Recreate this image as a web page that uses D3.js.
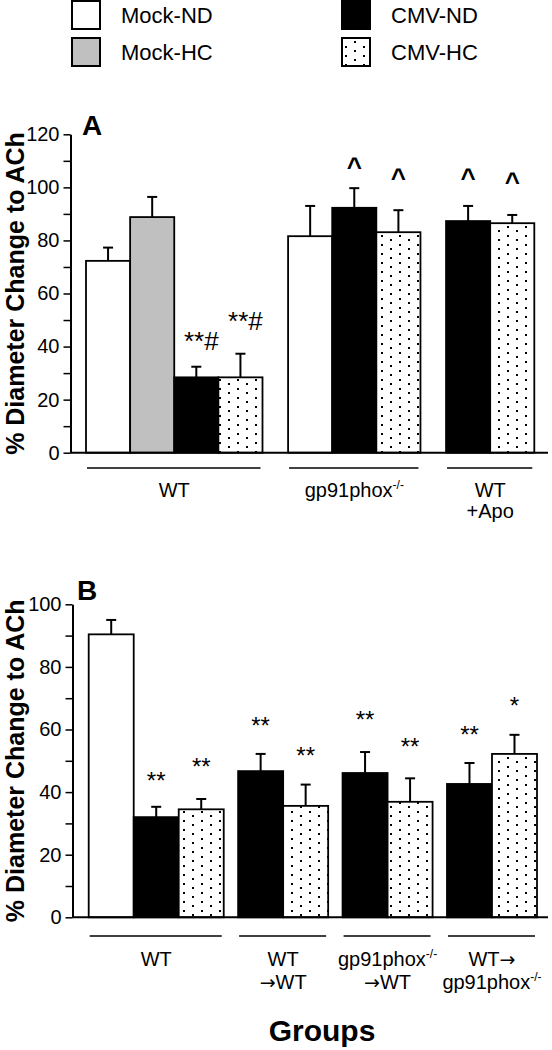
<!DOCTYPE html>
<html><head><meta charset="utf-8">
<script src="https://cdn.jsdelivr.net/npm/d3@7"></script>
<style>
html,body{margin:0;padding:0;background:#fff;}
svg{display:block;font-family:"Liberation Sans",Arial,Helvetica,sans-serif;}
</style></head>
<body>
<script>
// ---------- DATA ----------
const legendLabels = ["Mock-ND", "Mock-HC", "CMV-ND", "CMV-HC"];

// Panel A
const groupsA = [["WT"], ["gp91phox-/-"], ["WT", "+Apo"]];
const seriesA = [["Mock-ND", "Mock-HC", "CMV-ND", "CMV-HC"], ["Mock-ND", "CMV-ND", "CMV-HC"], ["CMV-ND", "CMV-HC"]];
const meansA = [[72.3, 88.8, 28.4, 28.4], [81.6, 92.3, 83.1], [87.3, 86.5]];
const errsA = [[5.0, 7.6, 4.0, 8.9], [11.4, 7.4, 8.3], [5.7, 3.1]];
const notesA = [["", "", "**#", "**#"], ["", "^", "^"], ["^", "^"]];
const noteLevelA = [[0, 0, 38.7, 46.2], [0, 104.4, 100.0], [100.0, 98.8]];
const ticksA = [0, 20, 40, 60, 80, 100, 120];

// Panel B
const groupsB = [["WT"], ["WT", "\u2192WT"], ["gp91phox-/-", "\u2192WT"], ["WT\u2192", "gp91phox-/-"]];
const seriesB = [["Mock-ND", "CMV-ND", "CMV-HC"], ["CMV-ND", "CMV-HC"], ["CMV-ND", "CMV-HC"], ["CMV-ND", "CMV-HC"]];
const meansB = [[90.4, 32.0, 34.5], [46.7, 35.6], [46.1, 36.9], [42.6, 52.2]];
const errsB = [[4.6, 3.3, 3.3], [5.5, 6.8], [6.7, 7.5], [6.7, 6.1]];
const notesB = [["", "**", "**"], ["**", "**"], ["**", "**"], ["**", "*"]];
const noteLevelB = [[0, 40.9, 45.4], [58.5, 49.1], [60.6, 51.9], [55.8, 65.1]];
const ticksB = [0, 20, 40, 60, 80, 100];

const yTitle = "% Diameter Change to ACh";
const xTitle = "Groups";

// ---------- DRAW ----------
const W = 552, H = 1050;
const svg = d3.select("body").append("svg").attr("width", W).attr("height", H);
const defs = svg.append("defs");
const pat = defs.append("pattern").attr("id", "dots").attr("patternUnits", "userSpaceOnUse")
  .attr("width", 18).attr("height", 9);
pat.append("rect").attr("width", 18).attr("height", 9).attr("fill", "#fff");
pat.append("rect").attr("x", 3).attr("y", 1).attr("width", 2).attr("height", 2).attr("fill", "#000");
pat.append("rect").attr("x", 12).attr("y", 5).attr("width", 2).attr("height", 2).attr("fill", "#000");

const fillOf = d3.scaleOrdinal().domain(legendLabels).range(["#ffffff", "#c0c0c0", "#000000", "url(#dots)"]);

// legend
const legPos = [[72, 1], [72, 38], [342, 1], [342, 38]];
legendLabels.forEach((lab, i) => {
  const [lx, ly] = legPos[i];
  svg.append("rect").attr("x", lx).attr("y", ly).attr("width", 28).attr("height", 28)
    .attr("fill", fillOf(lab)).attr("stroke", "#000").attr("stroke-width", 2);
  svg.append("text").attr("x", lx + 49).attr("y", ly + 22).attr("font-size", 22).text(lab);
});

function addLabelLine(sel, str) {
  // split into plain text, arrows and trailing superscript
  let sup = null;
  const m = str.match(/^(.*?)(-\/-)$/);
  if (m) { str = m[1]; sup = m[2]; }
  str.split(/(\u2192)/).filter(s => s.length).forEach(part => {
    if (part === "\u2192") {
      sel.append("tspan").attr("font-family", "DejaVu Sans, sans-serif").attr("font-size", 19).text(part);
    } else sel.append("tspan").text(part);
  });
  if (sup) sel.append("tspan").attr("font-size", 12).attr("dy", -8).text(sup);
}

function drawPanel(p) {
  const g = svg.append("g");
  let u = 0;
  const slots = [], gpos = [];
  p.groups.forEach((grp, gi) => {
    if (gi > 0) u += p.gap;
    const start = u;
    p.series[gi].forEach((s, si) => {
      slots.push({ s, u, mean: p.means[gi][si], err: p.errs[gi][si], note: p.notes[gi][si], lvl: p.levels[gi][si] });
      u += 1;
    });
    gpos.push({ start, end: u, label: grp });
  });
  const x = d3.scaleLinear().domain([0, u]).range(p.xRange);
  const y = d3.scaleLinear().domain([0, p.max]).range(p.yRange);

  // bars
  g.selectAll("rect.bar").data(slots).join("rect").attr("class", "bar")
    .attr("x", d => x(d.u)).attr("width", d => x(d.u + 1) - x(d.u))
    .attr("y", d => y(d.mean)).attr("height", d => y(0) - y(d.mean))
    .attr("fill", d => fillOf(d.s)).attr("stroke", "#000").attr("stroke-width", 1.8);

  // error bars
  const eb = g.selectAll("g.err").data(slots).join("g").attr("class", "err")
    .attr("stroke", "#000").attr("stroke-width", 2);
  eb.append("line").attr("x1", d => x(d.u + 0.5)).attr("x2", d => x(d.u + 0.5))
    .attr("y1", d => y(d.mean)).attr("y2", d => y(d.mean + d.err));
  eb.append("line").attr("x1", d => x(d.u + 0.5) - 5).attr("x2", d => x(d.u + 0.5) + 5)
    .attr("y1", d => y(d.mean + d.err)).attr("y2", d => y(d.mean + d.err));

  // annotations
  g.selectAll("text.note").data(slots.filter(d => d.note)).join("text").attr("class", "note")
    .attr("x", d => x(d.u + 0.5) + (d.note.includes("#") ? 5 : 0))
    .attr("y", d => y(d.lvl)).attr("text-anchor", "middle")
    .attr("font-size", d => d.note === "^" ? 26 : (d.note.includes("#") ? 26 : 24))
    .attr("font-weight", d => d.note === "^" ? "bold" : "normal")
    .text(d => d.note);

  // y axis
  const ax = g.append("g").attr("transform", `translate(${p.axisX},0)`)
    .call(d3.axisLeft(y).tickValues(d3.range(0, p.max + 1, 10))
      .tickFormat(d => p.ticks.includes(d) ? d : "").tickSize(7).tickPadding(4).tickSizeOuter(0));
  ax.select(".domain").attr("stroke", "#000").attr("stroke-width", 2);
  ax.selectAll(".tick line").attr("stroke", "#000").attr("stroke-width", 1.5);
  ax.selectAll(".tick text").attr("fill", "#000").attr("font-size", 20)
    .attr("font-family", "Liberation Sans, Arial, sans-serif");

  // baseline
  g.append("line").attr("x1", p.axisX).attr("x2", 548).attr("y1", y(0)).attr("y2", y(0))
    .attr("stroke", "#000").attr("stroke-width", 2);

  // y title
  const midY = (p.yRange[0] + p.yRange[1]) / 2;
  g.append("text").attr("transform", `translate(24,${midY}) rotate(-90)`)
    .attr("text-anchor", "middle").attr("font-size", 25).attr("font-weight", "bold").text(yTitle);

  // panel letter
  g.append("text").attr("x", p.letterPos[0]).attr("y", p.letterPos[1])
    .attr("font-size", 28).attr("font-weight", "bold").text(p.letter);

  // group underlines and labels
  gpos.forEach(gp => {
    g.append("line").attr("x1", x(gp.start) + 1).attr("x2", x(gp.end) - 2)
      .attr("y1", p.underlineY).attr("y2", p.underlineY).attr("stroke", "#000").attr("stroke-width", 1.5);
    gp.label.forEach((ln, li) => {
      const t = g.append("text").attr("x", x((gp.start + gp.end) / 2))
        .attr("y", p.labelY + li * p.lineH).attr("text-anchor", "middle").attr("font-size", 20);
      addLabelLine(t, ln);
    });
  });
}

drawPanel({
  groups: groupsA, series: seriesA, means: meansA, errs: errsA, notes: notesA, levels: noteLevelA,
  ticks: ticksA, max: 120, gap: 0.58, xRange: [86, 534.3], yRange: [452.7, 134.3], axisX: 70.5,
  letter: "A", letterPos: [82, 135], underlineY: 468, labelY: 497, lineH: 21
});
drawPanel({
  groups: groupsB, series: seriesB, means: meansB, errs: errsB, notes: notesB, levels: noteLevelB,
  ticks: ticksB, max: 100, gap: 0.32, xRange: [88.7, 537], yRange: [917.3, 604.3], axisX: 72.5,
  letter: "B", letterPos: [77, 600], underlineY: 936, labelY: 966, lineH: 23
});

svg.append("text").attr("x", 322).attr("y", 1041).attr("text-anchor", "middle")
  .attr("font-size", 30).attr("font-weight", "bold").text(xTitle);
</script>
</body></html>
